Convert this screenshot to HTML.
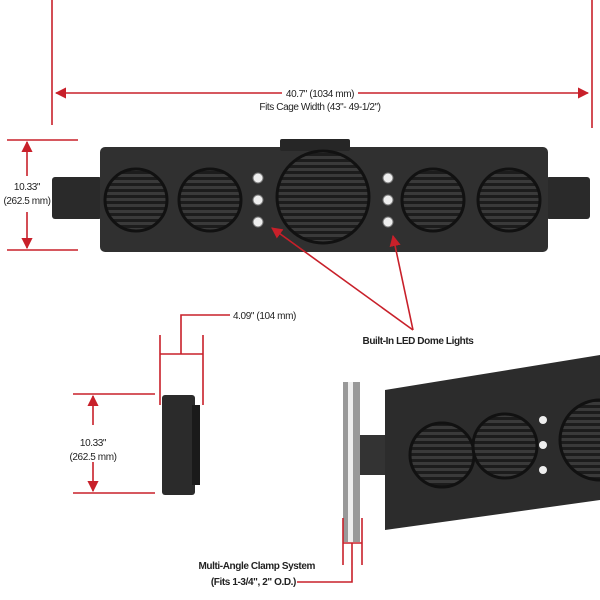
<!DOCTYPE html><html><head><style>body{margin:0;background:#fff}svg{display:block}text{font-family:"Liberation Sans",sans-serif;font-size:10px;fill:#222;letter-spacing:-0.4px}</style></head><body>
<svg width="600" height="600" viewBox="0 0 600 600">
<defs><marker id="a" viewBox="0 0 10 10" refX="9" refY="5" markerWidth="7" markerHeight="7" orient="auto-start-reverse"><path d="M0,0L10,5L0,10z" fill="#c8202a"/></marker>
<pattern id="g" width="6" height="6" patternUnits="userSpaceOnUse"><rect width="6" height="6" fill="#1c1c1c"/><rect width="6" height="3" fill="#3a3a3a"/></pattern></defs>
<!-- main bar -->
<rect x="52" y="177" width="50" height="42" rx="3" fill="#2a2a2a"/><rect x="546" y="177" width="44" height="42" rx="3" fill="#2a2a2a"/>
<rect x="100" y="147" width="448" height="105" rx="5" fill="#303030"/>
<rect x="280" y="139" width="70" height="12" rx="2" fill="#262626"/>
<g fill="url(#g)" stroke="#111" stroke-width="3">
<circle cx="136" cy="200" r="31"/><circle cx="210" cy="200" r="31"/><circle cx="323" cy="197" r="46"/><circle cx="433" cy="200" r="31"/><circle cx="509" cy="200" r="31"/></g>
<g fill="#eee" stroke="#777"><circle cx="258" cy="178" r="5"/><circle cx="258" cy="200" r="5"/><circle cx="258" cy="222" r="5"/><circle cx="388" cy="178" r="5"/><circle cx="388" cy="200" r="5"/><circle cx="388" cy="222" r="5"/></g>
<!-- side view -->
<rect x="162" y="395" width="33" height="100" rx="3" fill="#2b2b2b"/><rect x="192" y="405" width="8" height="80" fill="#1a1a1a"/>
<!-- perspective -->
<rect x="343" y="382" width="17" height="160" fill="#999"/><rect x="348" y="382" width="5" height="160" fill="#eee"/>
<rect x="360" y="435" width="30" height="40" fill="#333"/>
<polygon points="385,390 600,355 600,500 385,530" fill="#2c2c2c"/>
<g fill="url(#g)" stroke="#111" stroke-width="3"><circle cx="442" cy="455" r="32"/><circle cx="505" cy="446" r="32"/><circle cx="600" cy="440" r="40"/></g>
<g fill="#eee"><circle cx="543" cy="420" r="4"/><circle cx="543" cy="445" r="4"/><circle cx="543" cy="470" r="4"/></g>
<g stroke="#c8202a" stroke-width="1.6" fill="none">
<line x1="52" y1="0" x2="52" y2="125"/><line x1="592" y1="0" x2="592" y2="128"/>
<line x1="56" y1="93" x2="588" y2="93" marker-start="url(#a)" marker-end="url(#a)"/>
<line x1="7" y1="140" x2="78" y2="140"/><line x1="7" y1="250" x2="78" y2="250"/>
<line x1="27" y1="176" x2="27" y2="142" marker-end="url(#a)"/>
<line x1="27" y1="212" x2="27" y2="248" marker-end="url(#a)"/>
<line x1="160" y1="335" x2="160" y2="405"/><line x1="203" y1="335" x2="203" y2="405"/>
<line x1="160" y1="354" x2="203" y2="354"/><polyline points="181,354 181,315 230,315"/>
<line x1="73" y1="394" x2="155" y2="394"/><line x1="73" y1="493" x2="155" y2="493"/>
<line x1="93" y1="425" x2="93" y2="396" marker-end="url(#a)"/><line x1="93" y1="462" x2="93" y2="491" marker-end="url(#a)"/>
<line x1="413" y1="330" x2="272" y2="228" marker-end="url(#a)"/><line x1="413" y1="330" x2="393" y2="236" marker-end="url(#a)"/>
<line x1="343" y1="518" x2="343" y2="565"/><line x1="362" y1="518" x2="362" y2="565"/>
<line x1="343" y1="543" x2="362" y2="543"/><polyline points="352,543 352,582 297,582"/>
</g>
<rect x="282" y="86" width="76" height="14" fill="#fff"/>
<text x="320" y="97" text-anchor="middle">40.7" (1034 mm)</text>
<text x="320" y="110" text-anchor="middle">Fits Cage Width (43"- 49-1/2")</text>
<text x="27" y="190" text-anchor="middle">10.33"</text>
<text x="27" y="204" text-anchor="middle">(262.5 mm)</text>
<text x="233" y="319">4.09" (104 mm)</text>
<text x="93" y="446" text-anchor="middle">10.33"</text>
<text x="93" y="460" text-anchor="middle">(262.5 mm)</text>
<text x="418" y="344" text-anchor="middle" font-weight="bold">Built-In LED Dome Lights</text>
<text x="315" y="569" text-anchor="end" font-weight="bold">Multi-Angle Clamp System</text>
<text x="296" y="585" text-anchor="end" font-weight="bold">(Fits 1-3/4", 2" O.D.)</text>
</svg></body></html>
